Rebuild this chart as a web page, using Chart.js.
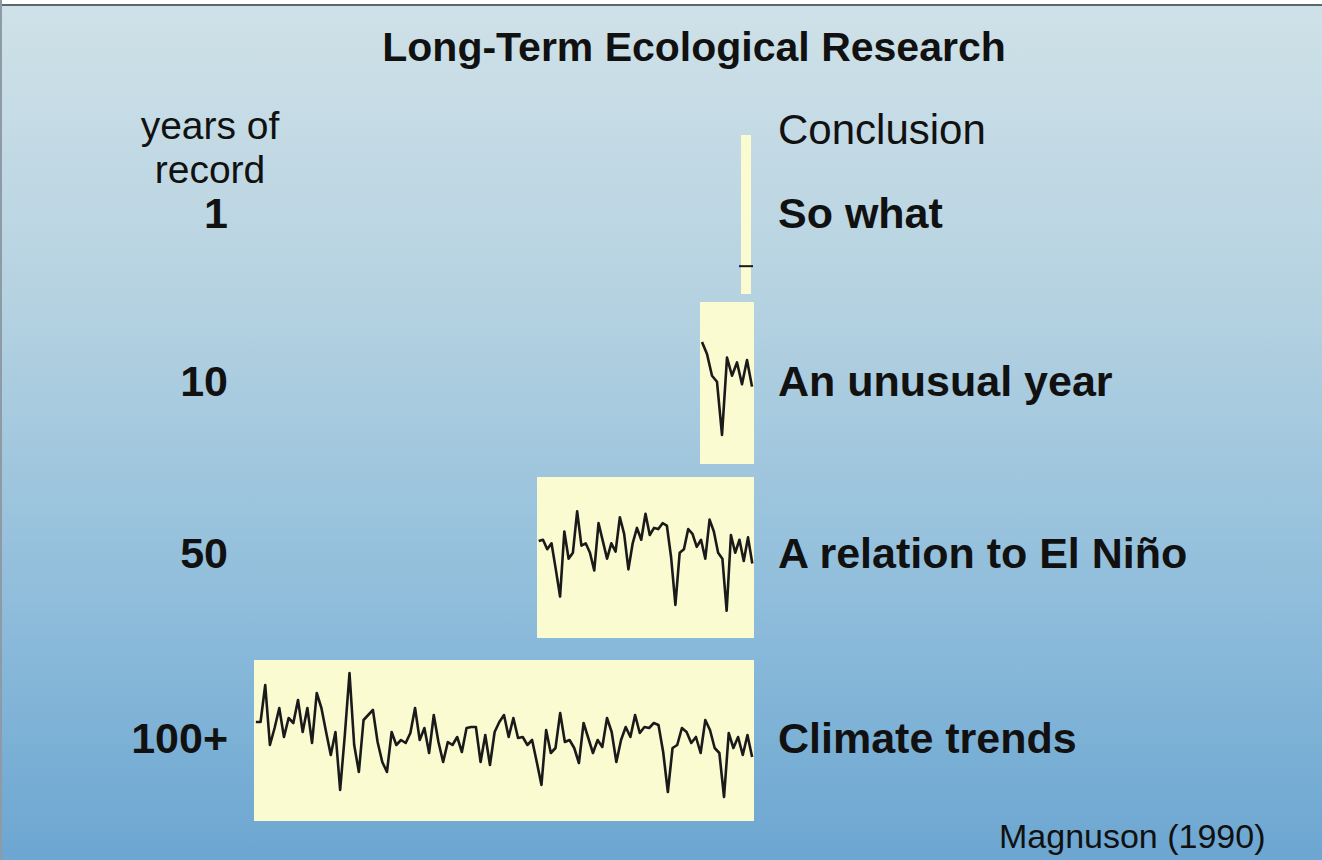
<!DOCTYPE html>
<html>
<head>
<meta charset="utf-8">
<title>Long-Term Ecological Research</title>
<script src="https://cdn.jsdelivr.net/npm/chart.js@4.4.1/dist/chart.umd.min.js"></script>
<style>
  body { margin: 0; }
  #slide {
    position: relative;
    width: 1322px;
    height: 860px;
    overflow: hidden;
    background: linear-gradient(to bottom, #ffffff 0px, #ffffff 4px, #5f676d 4px, #5f676d 6px, #cfe1e8 6px, #b5d2e1 35%, #8fbddb 70%, #6ca6d1 100%);
    box-shadow: inset 2px 0 0 #8c9ba6;
    font-family: "Liberation Sans", Arial, sans-serif;
    color: #111;
  }
  .t { position: absolute; line-height: 1; white-space: nowrap; font-size: 42px; }
  .b { font-weight: bold; font-size: 43px; }
  .c { transform: translate(-50%, -50%); }
  .l { transform: translate(0, -50%); }
  .r { transform: translate(-100%, -50%); }
  .head { font-size: 39px; line-height: 44px; text-align: center; }
  canvas { position: absolute; }
</style>
</head>
<body>
<div id="slide">
  <div class="t b c" style="left:694px; top:47px; font-size:41px;">Long-Term Ecological Research</div>
  <div class="t c head" style="left:210px; top:148px;">years of<br>record</div>
  <div class="t l" style="left:778px; top:130px;">Conclusion</div>
  <div class="t l" style="left:999px; top:836px; font-size:34px;">Magnuson (1990)</div>
</div>
<script>
var firstYear = 1883;
var anomaly = [
  19, 19, 56, -4, 13, 33, 4, 23, 18, 41, 9, 33, -2, 48, 33, 9, -14, 9, -49, 6,
  68, -4, -31, 21, 26, 31, -1, -21, -31, 9, -4, 1, -2, 8, 33, 1, 13, -12, 26, -1,
  -21, -1, -4, 4, -11, 13, 14, 14, -21, 6, -24, 9, 19, 26, 4, 23, 3, 4, -4, 1,
  -21, -44, 11, -12, -7, 28, -1, 1, -7, -22, 18, 3, -12, 1, -6, 23, 9, -21, 1, 14,
  4, 26, 8, 14, 13, 18, 16, -11, -51, -7, -4, 13, 9, -2, 4, -12, 21, 11, -7, -12,
  -56, 8, -7, 4, -14, 6, -16
];

// rows: left label, conclusion, how many of the latest values are shown
var recordLabels = ["1", "10", "50", "100+"];
var conclusions = ["So what", "An unusual year", "A relation to El Niño", "Climate trends"];
var shownPoints = [1, 11, 51, anomaly.length];

// layout of each row (pixel boxes and value range of each panel)
var rowY = [213, 381, 553, 738];
var boxes = [
  { x: 740, y: 134, w: 12, h: 161, yMin: -30, yMax: 50 },
  { x: 700, y: 302, w: 54, h: 162, yMin: -80, yMax: 54 },
  { x: 537, y: 477, w: 217, h: 161, yMin: -79, yMax: 57 },
  { x: 254, y: 660, w: 500, h: 161, yMin: -80, yMax: 81 }
];
var pad = 8;

var slide = document.getElementById("slide");

// yellow panel background behind the line
var boxFill = {
  id: "boxFill",
  beforeDraw: function (chart) {
    var a = chart.chartArea;
    var c = chart.ctx;
    c.save();
    c.fillStyle = "#fafbd1";
    c.fillRect(a.left, a.top, a.right - a.left, a.bottom - a.top);
    c.restore();
  }
};

for (var r = 0; r < recordLabels.length; r++) {
  // left label
  var lab = document.createElement("div");
  lab.className = "t b r";
  lab.style.left = "228px";
  lab.style.top = rowY[r] + "px";
  lab.textContent = recordLabels[r];
  slide.appendChild(lab);

  // conclusion text
  var con = document.createElement("div");
  con.className = "t b l";
  con.style.left = "778px";
  con.style.top = rowY[r] + "px";
  con.textContent = conclusions[r];
  slide.appendChild(con);

  // panel with the last n values
  var b = boxes[r];
  var cv = document.createElement("canvas");
  cv.width = b.w + 2 * pad;
  cv.height = b.h + 2 * pad;
  cv.style.left = (b.x - pad) + "px";
  cv.style.top = (b.y - pad) + "px";
  slide.appendChild(cv);

  var n = shownPoints[r];
  var pts = [];
  for (var i = anomaly.length - n; i < anomaly.length; i++) {
    pts.push({ x: firstYear + i, y: anomaly[i] });
  }
  var single = n === 1;
  var edge = single ? 0.5 : 0.4;

  new Chart(cv.getContext("2d"), {
    type: "line",
    data: {
      datasets: [{
        data: pts,
        borderColor: "#1a1a1a",
        backgroundColor: "#1a1a1a",
        borderWidth: 2.6,
        borderJoinStyle: "round",
        pointRadius: single ? 7 : 0,
        pointStyle: "line",
        pointBorderWidth: 2,
        tension: 0,
        clip: false
      }]
    },
    options: {
      responsive: false,
      animation: false,
      events: [],
      layout: { padding: pad },
      plugins: { legend: { display: false }, tooltip: { enabled: false } },
      scales: {
        x: { type: "linear", display: false, min: pts[0].x - edge, max: pts[pts.length - 1].x + edge },
        y: { display: false, min: b.yMin, max: b.yMax }
      }
    },
    plugins: [boxFill]
  });
}
</script>
</body>
</html>
